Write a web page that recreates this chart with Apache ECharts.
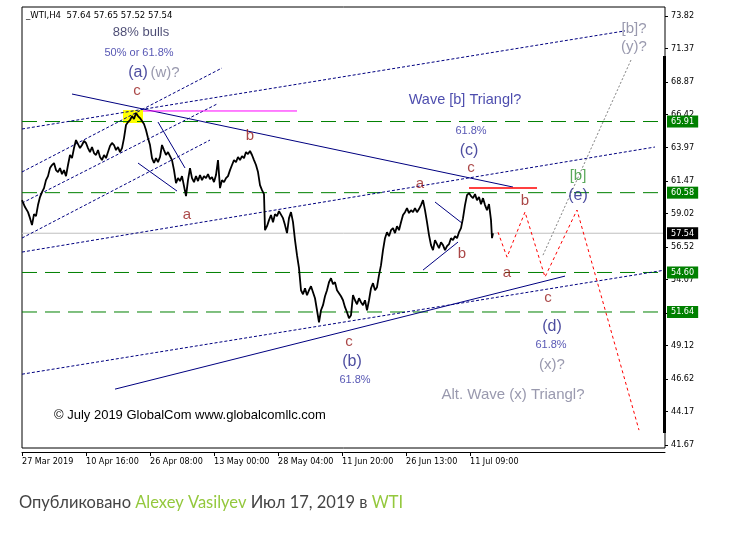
<!DOCTYPE html>
<html><head><meta charset="utf-8">
<script src="https://cdn.jsdelivr.net/npm/echarts@6/dist/echarts.min.js"></script>
<style>html,body{margin:0;padding:0;background:#fff;}#c{width:742px;height:541px;}</style>
</head><body><div id="c"></div>
<script>
// ---------- data ----------
const barIndex = [0,3,6,8,10,12,14,16,18,20,22,24,26,28,30,32,34,36,38,40,42,44,46,48,50,52,54,56,58,60,62,64,66,68,70,72,74,76,78,80,82,84,86,88,90,92,94,96,98,100,102,104,106,108,110,112,114,116,118,120,122,124,126,128,130,132,134,136,138,140,142,144,146,148,150,152,154,156,158,160,162,164,166,168,170,172,174,176,178,180,182,184,186,188,190,192,194,196,198,200,202,204,206,208,210,212,214,216,218,220,222,224,226,228,230,232,234,236,238,240,242,243,245,247,249,251,253,255,257,259,261,263,265,267,269,271,273,275,277,279,281,283,285,287,289,291,293,295,297,299,301,303,305,307,309,311,313,315,317,319,321,323,325,327,329,331,333,335,337,339,341,343,345,347,349,351,353,355,357,359,361,363,365,367,369,371,373,375,377,379,381,383,385,387,389,391,393,395,397,399,401,403,405,407,409,411,413,415,417,419,421,423,425,427,429,431,433,435,437,439,441,443,445,447,449,451,453,455,457,459,461,463,465,467,469,470,471];
const closePrice = [60.02,59.50,59.12,58.67,58.15,58.97,58.82,59.65,60.25,60.62,60.92,61.52,61.82,62.42,62.65,62.80,62.27,62.12,62.42,61.97,62.27,61.82,62.65,63.40,63.17,63.92,64.52,64.22,63.92,64.15,64.45,64.30,63.92,63.62,64.00,63.55,63.40,63.77,63.25,63.02,63.40,63.17,63.62,64.07,64.30,64.15,63.77,64.00,63.62,63.92,64.67,65.65,65.87,66.02,66.32,66.10,66.55,66.32,66.17,65.95,65.72,65.27,64.67,64.15,63.17,62.80,63.17,62.87,63.25,64.15,63.77,63.40,63.62,63.32,63.02,62.27,61.30,61.67,61.45,61.82,61.07,60.32,61.52,62.42,61.67,61.37,61.82,61.45,61.90,61.52,61.82,61.67,61.97,61.60,61.75,61.37,61.90,63.02,60.92,61.52,61.37,61.67,61.82,62.27,62.65,63.02,62.87,63.25,63.02,63.32,63.17,63.62,63.47,63.70,63.40,63.02,62.65,62.12,61.15,60.77,60.47,57.77,58.07,58.52,58.90,58.37,58.97,58.82,59.20,59.27,58.67,58.15,57.55,58.67,59.12,58.37,57.02,55.90,54.92,53.27,52.97,53.42,52.90,53.27,53.57,53.12,52.67,51.77,50.87,51.77,52.15,52.82,53.27,53.87,54.17,53.72,53.87,53.27,53.05,52.82,52.52,52.00,51.62,51.17,51.40,52.90,52.52,52.22,52.67,52.37,52.15,52.52,51.77,52.52,53.42,53.80,53.27,53.50,54.40,55.15,56.27,57.17,57.62,57.32,57.77,57.92,57.55,58.07,57.77,58.37,58.90,59.12,59.42,59.05,59.27,59.12,59.42,59.12,59.35,59.65,60.02,59.27,58.37,57.40,56.65,56.27,57.02,56.72,56.42,56.87,56.65,56.27,56.57,56.72,57.17,57.02,57.32,57.17,57.62,57.92,58.67,59.65,60.40,60.55,60.32,60.17,60.47,60.02,60.25,59.72,60.17,59.65,59.27,59.72,58.52,57.17,57.54];

const yTickValues = [73.82,71.37,68.87,66.42,63.97,61.47,59.02,56.52,54.07,51.57,49.12,46.62,44.17,41.67];
const xTickIndex = [0,64,128,192,256,320,384,448];
const xTickLabels = ['27 Mar 2019','10 Apr 16:00','26 Apr 08:00','13 May 00:00','28 May 04:00','11 Jun 20:00','26 Jun 13:00','11 Jul 09:00'];
const levelPrices = [65.91,60.58,54.60,51.64];
const bidPrice = 57.54;
const lastBar = 643;

// trend lines in (bar index, price)
const dottedChannels = [
  [[0,65.35],[603,72.70]],
  [[0,62.13],[200,69.92]],
  [[0,59.80],[195,67.22]],
  [[0,57.18],[188,64.52]],
  [[0,56.13],[633,64.00]],
  [[0,46.98],[643,54.78]]
];
const solidNavyLines = [
  [[50,67.97],[491,61.00]],
  [[93,45.86],[543,54.33]],
  [[136,65.87],[163,62.43]],
  [[116,62.80],[155,60.70]],
  [[413,59.88],[440,58.30]],
  [[401,54.78],[436,56.88]]
];
const magentaLine = [[121,66.70],[275,66.70]];
const redLine = [[447,60.93],[515,60.93]];
const redProjection = [[476,57.62],[485,55.75],[503,59.13],[523,54.26],[555,59.28],[617,42.79]];
const grayProjection = [[521,55.90],[609,70.52]];
const yellowBox = [[101,66.77],[121,65.80]];

const maroonText = ['c','b','a','c','a','b','b','a','c','c'];
const maroonIdx = [115,228,165,449,398,503,440,485,526,327];
const maroonPrice = [68.20,64.82,58.90,62.43,61.23,59.95,55.98,54.56,52.68,49.38];
const navyText = ['(a)','(c)','(e)','(d)','(b)'];
const navyIdx = [116,447,556,530,330];
const navyPrice = [69.55,63.70,60.33,50.51,47.96];
const pctText = ['50% or 61.8%','61.8%','61.8%','61.8%'];
const pctIdx = [117,449,529,333];
const pctPrice = [71.05,65.20,49.16,46.53];
const grayText = ['(w)?','(x)?','[b]?','(y)?','Alt. Wave (x) Triangl?'];
const grayIdx = [143,530,612,612,491];
const grayPrice = [69.55,47.66,72.85,71.50,45.41];
const titleText = ['Wave [b] Triangl?'];
const titleIdx = [443];
const titlePrice = [67.52];
const bullsText = ['88% bulls'];
const bullsIdx = [119];
const bullsPrice = [72.55];
const greenText = ['[b]'];
const greenIdx = [556];
const greenPrice = [61.83];

// ---------- chart ----------
const AX = "'DejaVu Sans Condensed','DejaVu Sans',sans-serif";
const AR = "'Liberation Sans',Arial,sans-serif";
const chart = echarts.init(document.getElementById('c'), null, {renderer:'canvas'});

function seg(points, color, type, width, z) {
  return {type:'line', data: points, symbol:'none', showSymbol:false, silent:true, animation:false,
    lineStyle:{color:color, type:type, width:width}, z: z || 3};
}
function texts(t, xi, yp, color, size, z) {
  return {type:'scatter', silent:true, animation:false, symbolSize:1, itemStyle:{color:'rgba(0,0,0,0)'}, z: z || 8,
    data: t.map((s,i)=>({name:s, value:[xi[i], yp[i]]})),
    label:{show:true, position:'inside', formatter:p=>p.name, color:color, fontSize:size, fontFamily:AR}};
}

const series = [];
series.push({type:'line', data:[], markArea:{silent:true, itemStyle:{color:'#ffff00', opacity:1},
  data:[[{coord:yellowBox[0]},{coord:yellowBox[1]}]]}, z:1});
levelPrices.forEach(p=>{
  const s = seg([[0,p],[lastBar,p]], '#008000', [15,8], 1, 2);
  s.endLabel = {show:true, formatter:p.toFixed(2), color:'#fff', backgroundColor:'#008000', padding:[1,4,0,4],
    fontSize:9, fontFamily:AX, lineHeight:11, distance:2};
  series.push(s);
});
{
  const s = seg([[0,bidPrice],[lastBar,bidPrice]], '#c0c0c0', 'solid', 1, 2);
  s.endLabel = {show:true, formatter:bidPrice.toFixed(2), color:'#fff', backgroundColor:'#000', padding:[1,4,0,4],
    fontSize:9, fontFamily:AX, lineHeight:11, distance:2};
  series.push(s);
}
dottedChannels.forEach(l=>series.push(seg(l, '#000080', [3,2], 1, 3)));
solidNavyLines.forEach(l=>series.push(seg(l, '#000080', 'solid', 1, 3)));
series.push(seg(magentaLine, '#ff00ff', 'solid', 1, 3));
series.push(seg(redLine, '#ff0000', 'solid', 1.5, 3));
series.push(seg(redProjection, '#ff0000', [3,3], 1, 3));
series.push(seg(grayProjection, '#808080', [2,2], 1, 3));
series.push({type:'line', data: barIndex.map((x,i)=>[x, closePrice[i]]), symbol:'none', showSymbol:false,
  silent:true, animation:false, lineStyle:{color:'#000', width:1.8}, z:5});
series.push(texts(maroonText, maroonIdx, maroonPrice, '#951818', 15));
series.push(texts(navyText, navyIdx, navyPrice, '#202088', 16));
series.push(texts(pctText, pctIdx, pctPrice, '#2c2ca0', 11));
series.push(texts(grayText, grayIdx, grayPrice, '#80809a', 15));
series.push(texts(titleText, titleIdx, titlePrice, '#20209a', 14.5));
series.push(texts(bullsText, bullsIdx, bullsPrice, '#1e1e50', 13));
series.push(texts(greenText, greenIdx, greenPrice, '#2f922f', 15));

chart.setOption({
  animation:false,
  backgroundColor:'#fff',
  grid:{left:22, right:77, top:7, bottom:93, show:true, borderColor:'#000', borderWidth:1, backgroundColor:'#fff',
    containLabel:false, outerBoundsMode:'none'},
  xAxis:{type:'value', min:0, max:lastBar, offset:4, splitLine:{show:false},
    axisLine:{show:true, onZero:false, lineStyle:{color:'#000', width:1}},
    axisTick:{show:true, customValues:xTickIndex, length:4, lineStyle:{color:'#000'}},
    axisLabel:{customValues:xTickIndex, formatter:v=>xTickLabels[xTickIndex.indexOf(v)] || '', align:'left',
      margin:5, color:'#000', fontSize:9, fontFamily:AX}},
  yAxis:{type:'value', position:'right', min:41.45, max:74.49, scale:true, splitLine:{show:false},
    axisLine:{show:false, onZero:false},
    axisTick:{show:true, customValues:yTickValues, length:3, lineStyle:{color:'#000'}},
    axisLabel:{customValues:yTickValues, formatter:v=>v.toFixed(2), margin:6, color:'#000', fontSize:9, fontFamily:AX}},
  graphic:[
    {type:'rect', shape:{x:663, y:56, width:3, height:377}, style:{fill:'#000'}, z:50},
    {type:'text', x:26, y:16, style:{text:'_WTI,H4  57.64 57.65 57.52 57.54', fill:'#000', font:"9.5px 'DejaVu Sans Condensed','DejaVu Sans'", verticalAlign:'middle'}, z:50},
    {type:'text', x:54, y:415, style:{text:'© July 2019 GlobalCom www.globalcomllc.com', fill:'#000', font:"13px 'Liberation Sans'", verticalAlign:'middle'}, z:50},
    {type:'text', x:19, y:503, style:{
      text:'{g|Опубликовано }{l|Alexey Vasilyev}{g| Июл 17, 2019 в }{l|WTI}', verticalAlign:'middle',
      rich:{g:{fill:'#444444', fontSize:16.5, fontFamily:'Lato'}, l:{fill:'#94c83d', fontSize:16.5, fontFamily:'Lato'}}}, z:50}
  ],
  series:series
});
</script></body></html>
